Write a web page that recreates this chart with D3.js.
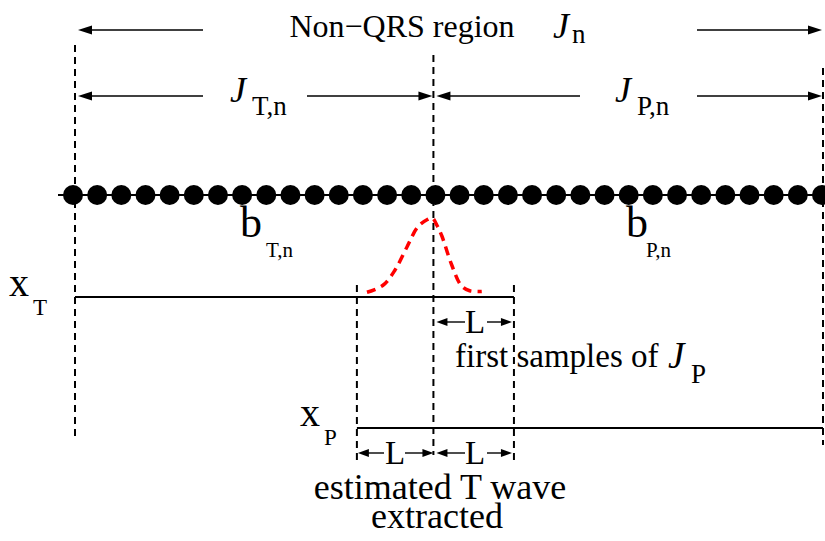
<!DOCTYPE html>
<html><head><meta charset="utf-8">
<script src="https://cdn.jsdelivr.net/npm/d3@7"></script>
<style>body{margin:0;background:#fff}svg{display:block}</style>
</head><body><svg id="c" width="825" height="541"></svg>
<script>
// ---- data ----
const samples = [0,1,2,3,4,5,6,7,8,9,10,11,12,13,14,15,16,17,18,19,20,21,22,23,24,25,26,27,28,29,30,31];
const boundaries = [0, 15, 31];           // start of J_T, split point, end of J_P (sample index)
const L = 3.25;                            // window half-length (samples)
const tWaveOffset = [-2.75,-2.1,-1.6,-1.1,-0.65,-0.25,-0.05,0.15,0.35,0.75,1.15,1.5,2.0];
const tWaveAmp    = [0.01, 0.10, 0.30, 0.61, 0.88, 0.98, 1.0, 0.9, 0.76, 0.38, 0.10, 0.03, 0.02];
const topLabel = "Non\u2212QRS region";
const firstLabel = "first samples of";
const bottomLabels = ["estimated T wave", "extracted"];

const FONT = '"Liberation Serif"';

// ---- scales ----
const svg = d3.select("#c");
const x = d3.scaleLinear().domain([0, 31]).range([73, 822]);
const yW = d3.scaleLinear().domain([0, 1]).range([293, 218]);

const xs = x(boundaries[0]), xm = x(boundaries[1]), xe = x(boundaries[2]);
const xL = x(boundaries[1] - L), xR = x(boundaries[1] + L);

// dashed verticals
const dash = "7,5";
function vline(xx, y1, y2) {
  svg.append("line").attr("x1", xx).attr("x2", xx).attr("y1", y1).attr("y2", y2)
    .attr("stroke", "#000").attr("stroke-width", 2).attr("stroke-dasharray", dash);
}
vline(xs + 2, 45, 440);
vline(xm - 2, 55, 455);
vline(xe + 1, 68, 445);
vline(xL, 285, 465);
vline(xR, 285, 460);

// arrows
function arrow(tip, tail, y, hl, hw) {
  const dir = Math.sign(tail - tip);
  svg.append("line").attr("x1", tip + dir * hl * 0.8).attr("x2", tail).attr("y1", y).attr("y2", y)
    .attr("stroke", "#000").attr("stroke-width", 1.4);
  svg.append("path").attr("d", `M${tip},${y} L${tip + dir * hl},${y - hw / 2} L${tip + dir * hl},${y + hw / 2} Z`)
    .attr("fill", "#000");
}
// top row
arrow(xs + 5, 203, 30, 14, 9);
arrow(xe, 697, 30, 14, 9);
// second row
arrow(xs + 5, 203, 96, 14, 9);
arrow(xm - 3, 307, 96, 14, 9);
arrow(xm + 1, 580, 96, 14, 9);
arrow(xe, 697, 96, 14, 9);
// L rows
arrow(xm + 1, 465, 322, 11, 8);
arrow(xR - 2, 487, 322, 11, 8);
arrow(xL + 1, 384, 453, 11, 8);
arrow(xm - 2, 405, 453, 11, 8);
arrow(xm + 1, 465, 453, 11, 8);
arrow(xR - 2, 487, 453, 11, 8);

// sample line & dots
svg.append("line").attr("x1", 58).attr("x2", 825).attr("y1", 195).attr("y2", 195)
  .attr("stroke", "#000").attr("stroke-width", 2);
svg.selectAll("circle.s").data(samples).join("circle").attr("class", "s")
  .attr("cx", d => x(d)).attr("cy", 195).attr("r", 10).attr("fill", "#000");

// x_T and x_P lines
svg.append("line").attr("x1", xs + 2).attr("x2", xR).attr("y1", 297).attr("y2", 297)
  .attr("stroke", "#000").attr("stroke-width", 2);
svg.append("line").attr("x1", xL).attr("x2", xe + 1).attr("y1", 428).attr("y2", 428)
  .attr("stroke", "#000").attr("stroke-width", 2);

// T wave
const wave = d3.line().x((d, i) => x(boundaries[1] + tWaveOffset[i]) - 2).y(d => yW(d)).curve(d3.curveCatmullRom);
svg.append("path").attr("d", wave(tWaveAmp)).attr("fill", "none")
  .attr("stroke", "#ff0000").attr("stroke-width", 3.5).attr("stroke-dasharray", "9,6");

// text helpers
function txt(s, xx, y, size, opts = {}) {
  const t = svg.append("text").attr("x", xx).attr("y", y).attr("font-size", size)
    .style("font-family", FONT).attr("fill", "#000").text(s);
  if (opts.italic) t.attr("font-style", "italic");
  if (opts.anchor) t.attr("text-anchor", opts.anchor);
  return t;
}
txt(topLabel, 402, 37, 32, {anchor: "middle"});
txt("J", 553, 38, 36, {italic: true}); txt("n", 572, 43, 27);
txt("J", 230, 102, 36, {italic: true}); txt("T,n", 252, 115, 27);
txt("J", 615, 102, 36, {italic: true}); txt("P,n", 637, 115, 27);
txt("b", 240, 237, 44); txt("T,n", 266, 257, 21);
txt("b", 626, 237, 44); txt("P,n", 646, 257, 21);
txt("x", 9, 296, 40); txt("T", 33, 315, 23);
txt("x", 300, 426, 40); txt("P", 324, 445, 23);
txt("L", 475, 333, 33, {anchor: "middle"});
txt("L", 395, 464, 33, {anchor: "middle"});
txt("L", 475, 464, 33, {anchor: "middle"});
txt(firstLabel, 455, 367, 33);
txt("J", 668, 368, 37, {italic: true}); txt("P", 691, 383, 27);
txt(bottomLabels[0], 440, 499, 36, {anchor: "middle"});
txt(bottomLabels[1], 437, 528, 36, {anchor: "middle"});
</script></body></html>
